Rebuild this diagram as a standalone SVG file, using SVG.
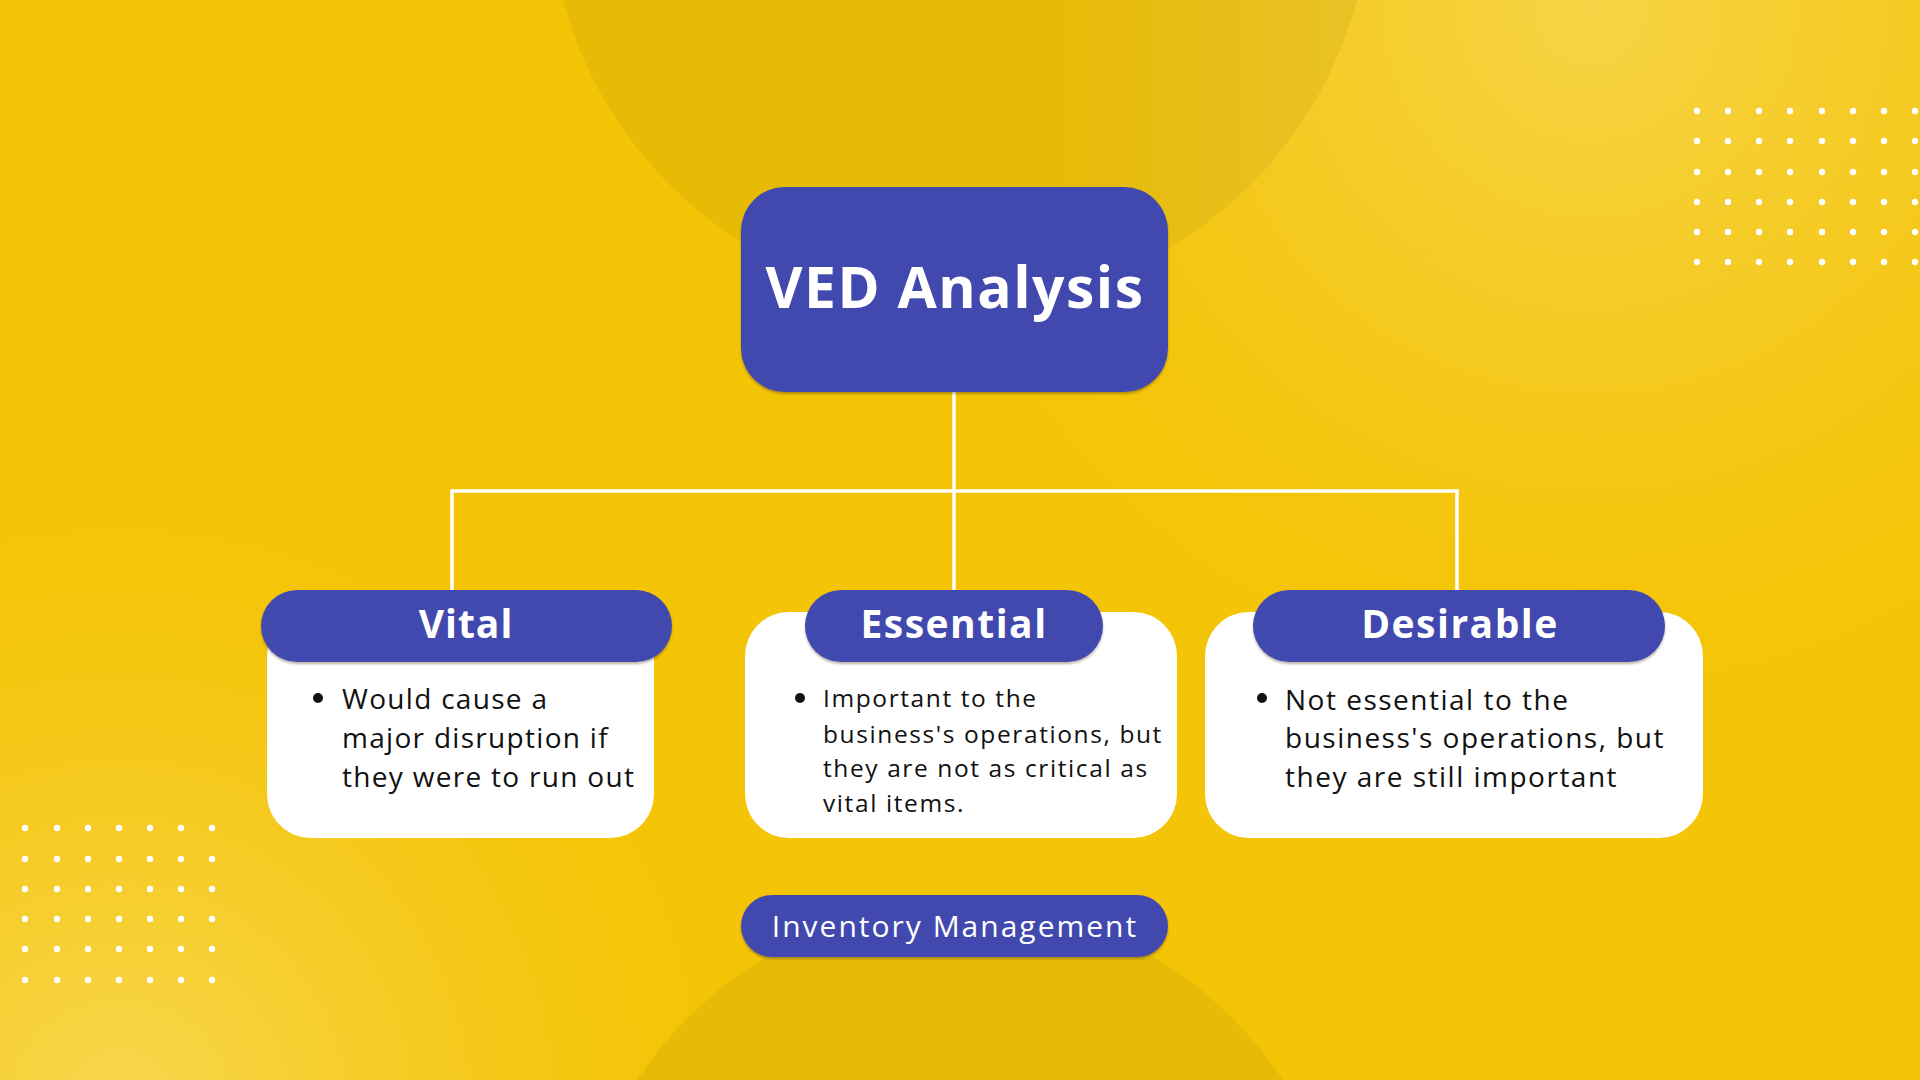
<svg xmlns="http://www.w3.org/2000/svg" width="1920" height="1080" viewBox="0 0 1920 1080">
  <defs>
    <radialGradient id="glowTR" cx="1590" cy="10" r="760" gradientUnits="userSpaceOnUse">
      <stop offset="0" stop-color="#F6D549" stop-opacity="0.95"/>
      <stop offset="0.45" stop-color="#F5CF38" stop-opacity="0.55"/>
      <stop offset="1" stop-color="#F4C406" stop-opacity="0"/>
    </radialGradient>
    <radialGradient id="glowBL" cx="120" cy="1110" r="650" gradientUnits="userSpaceOnUse">
      <stop offset="0" stop-color="#F7D850" stop-opacity="1"/>
      <stop offset="0.5" stop-color="#F6D03A" stop-opacity="0.5"/>
      <stop offset="1" stop-color="#F4C406" stop-opacity="0"/>
    </radialGradient>
    <linearGradient id="circTop" x1="560" y1="0" x2="1370" y2="0" gradientUnits="userSpaceOnUse">
      <stop offset="0" stop-color="#E7BA05"/>
      <stop offset="0.6" stop-color="#E6BA06"/>
      <stop offset="1" stop-color="#E9C228"/>
    </linearGradient>
    <filter id="sh" x="-5%" y="-10%" width="110%" height="130%">
      <feDropShadow dx="0" dy="2" stdDeviation="1.2" flood-color="#3a2f00" flood-opacity="0.35"/>
    </filter>
    <style>
      .pill { fill: #434AAE; filter: url(#sh); }
      .card { fill: #FFFFFF; }
      .title { font-family: "Open Sans", "Liberation Sans", sans-serif; font-weight: 700; fill: #FFFFFF; text-anchor: middle; }
      .body { font-family: "Open Sans", "Liberation Sans", sans-serif; fill: #111111; }
      .bullet { fill: #111111; }
      .dot { fill: #FFFFFF; }
      .conn { stroke: #FFFFFF; stroke-width: 3.5; fill: none; }
    </style>
  </defs>

  <!-- background -->
  <rect x="0" y="0" width="1920" height="1080" fill="#F4C406"/>
  <rect x="0" y="0" width="1920" height="1080" fill="url(#glowTR)"/>
  <rect x="0" y="0" width="1920" height="1080" fill="url(#glowBL)"/>
  <circle cx="960" cy="-106" r="411" fill="url(#circTop)"/>
  <circle cx="960" cy="1290" r="385" fill="#E6BA06"/>

  <!-- dot grids -->
  <g id="dots-top-right">
    <g class="dot">
      <circle cx="1697" cy="111" r="3.2"/><circle cx="1728" cy="111" r="3.2"/><circle cx="1759" cy="111" r="3.2"/><circle cx="1790" cy="111" r="3.2"/><circle cx="1822" cy="111" r="3.2"/><circle cx="1853" cy="111" r="3.2"/><circle cx="1884" cy="111" r="3.2"/><circle cx="1915" cy="111" r="3.2"/>
      <circle cx="1697" cy="141" r="3.2"/><circle cx="1728" cy="141" r="3.2"/><circle cx="1759" cy="141" r="3.2"/><circle cx="1790" cy="141" r="3.2"/><circle cx="1822" cy="141" r="3.2"/><circle cx="1853" cy="141" r="3.2"/><circle cx="1884" cy="141" r="3.2"/><circle cx="1915" cy="141" r="3.2"/>
      <circle cx="1697" cy="172" r="3.2"/><circle cx="1728" cy="172" r="3.2"/><circle cx="1759" cy="172" r="3.2"/><circle cx="1790" cy="172" r="3.2"/><circle cx="1822" cy="172" r="3.2"/><circle cx="1853" cy="172" r="3.2"/><circle cx="1884" cy="172" r="3.2"/><circle cx="1915" cy="172" r="3.2"/>
      <circle cx="1697" cy="202" r="3.2"/><circle cx="1728" cy="202" r="3.2"/><circle cx="1759" cy="202" r="3.2"/><circle cx="1790" cy="202" r="3.2"/><circle cx="1822" cy="202" r="3.2"/><circle cx="1853" cy="202" r="3.2"/><circle cx="1884" cy="202" r="3.2"/><circle cx="1915" cy="202" r="3.2"/>
      <circle cx="1697" cy="232" r="3.2"/><circle cx="1728" cy="232" r="3.2"/><circle cx="1759" cy="232" r="3.2"/><circle cx="1790" cy="232" r="3.2"/><circle cx="1822" cy="232" r="3.2"/><circle cx="1853" cy="232" r="3.2"/><circle cx="1884" cy="232" r="3.2"/><circle cx="1915" cy="232" r="3.2"/>
      <circle cx="1697" cy="262" r="3.2"/><circle cx="1728" cy="262" r="3.2"/><circle cx="1759" cy="262" r="3.2"/><circle cx="1790" cy="262" r="3.2"/><circle cx="1822" cy="262" r="3.2"/><circle cx="1853" cy="262" r="3.2"/><circle cx="1884" cy="262" r="3.2"/><circle cx="1915" cy="262" r="3.2"/>
    </g>
  </g>
  <g id="dots-bottom-left">
    <g class="dot">
      <circle cx="25" cy="828" r="3.2"/><circle cx="57" cy="828" r="3.2"/><circle cx="88" cy="828" r="3.2"/><circle cx="119" cy="828" r="3.2"/><circle cx="150" cy="828" r="3.2"/><circle cx="181" cy="828" r="3.2"/><circle cx="212" cy="828" r="3.2"/>
      <circle cx="25" cy="859" r="3.2"/><circle cx="57" cy="859" r="3.2"/><circle cx="88" cy="859" r="3.2"/><circle cx="119" cy="859" r="3.2"/><circle cx="150" cy="859" r="3.2"/><circle cx="181" cy="859" r="3.2"/><circle cx="212" cy="859" r="3.2"/>
      <circle cx="25" cy="889" r="3.2"/><circle cx="57" cy="889" r="3.2"/><circle cx="88" cy="889" r="3.2"/><circle cx="119" cy="889" r="3.2"/><circle cx="150" cy="889" r="3.2"/><circle cx="181" cy="889" r="3.2"/><circle cx="212" cy="889" r="3.2"/>
      <circle cx="25" cy="919" r="3.2"/><circle cx="57" cy="919" r="3.2"/><circle cx="88" cy="919" r="3.2"/><circle cx="119" cy="919" r="3.2"/><circle cx="150" cy="919" r="3.2"/><circle cx="181" cy="919" r="3.2"/><circle cx="212" cy="919" r="3.2"/>
      <circle cx="25" cy="949" r="3.2"/><circle cx="57" cy="949" r="3.2"/><circle cx="88" cy="949" r="3.2"/><circle cx="119" cy="949" r="3.2"/><circle cx="150" cy="949" r="3.2"/><circle cx="181" cy="949" r="3.2"/><circle cx="212" cy="949" r="3.2"/>
      <circle cx="25" cy="980" r="3.2"/><circle cx="57" cy="980" r="3.2"/><circle cx="88" cy="980" r="3.2"/><circle cx="119" cy="980" r="3.2"/><circle cx="150" cy="980" r="3.2"/><circle cx="181" cy="980" r="3.2"/><circle cx="212" cy="980" r="3.2"/>
    </g>
  </g>

  <!-- connectors -->
  <g id="connectors">
    <line class="conn" x1="954" y1="392" x2="954" y2="591"/>
    <line class="conn" x1="450.3" y1="491" x2="1458.7" y2="491"/>
    <line class="conn" x1="452" y1="491" x2="452" y2="591"/>
    <line class="conn" x1="1457" y1="491" x2="1457" y2="591"/>
  </g>

  <!-- root node -->
  <g id="node-ved">
    <rect class="pill" x="741" y="187" width="427" height="205" rx="44" ry="44"/>
    <text class="title" x="955" y="308" font-size="57" letter-spacing="1.5">VED Analysis</text>
  </g>

  <!-- Vital -->
  <g id="node-vital">
    <rect class="card" x="267" y="612" width="387" height="226" rx="44" ry="44"/>
    <rect class="pill" x="261" y="590" width="411" height="72" rx="36" ry="36"/>
    <text class="title" x="466" y="638" font-size="39" letter-spacing="1">Vital</text>
    <circle class="bullet" cx="318" cy="698" r="5"/>
    <text class="body" font-size="28" letter-spacing="1.3">
      <tspan x="342" y="709">Would cause a</tspan>
      <tspan x="342" y="748">major disruption if</tspan>
      <tspan x="342" y="787">they were to run out</tspan>
    </text>
  </g>

  <!-- Essential -->
  <g id="node-essential">
    <rect class="card" x="745" y="612" width="432" height="226" rx="44" ry="44"/>
    <rect class="pill" x="805" y="590" width="298" height="72" rx="36" ry="36"/>
    <text class="title" x="954" y="638" font-size="39" letter-spacing="1.5">Essential</text>
    <circle class="bullet" cx="800" cy="698" r="5"/>
    <text class="body" font-size="24.5" letter-spacing="1.6">
      <tspan x="823" y="707">Important to the</tspan>
      <tspan x="823" y="743">business's operations, but</tspan>
      <tspan x="823" y="777">they are not as critical as</tspan>
      <tspan x="823" y="812">vital items.</tspan>
    </text>
  </g>

  <!-- Desirable -->
  <g id="node-desirable">
    <rect class="card" x="1205" y="612" width="498" height="226" rx="44" ry="44"/>
    <rect class="pill" x="1253" y="590" width="412" height="72" rx="36" ry="36"/>
    <text class="title" x="1460" y="638" font-size="39" letter-spacing="1.5">Desirable</text>
    <circle class="bullet" cx="1262" cy="698" r="5"/>
    <text class="body" font-size="28" letter-spacing="1.5">
      <tspan x="1285" y="710">Not essential to the</tspan>
      <tspan x="1285" y="748">business's operations, but</tspan>
      <tspan x="1285" y="787">they are still important</tspan>
    </text>
  </g>

  <!-- footer label -->
  <g id="node-inventory">
    <rect class="pill" x="741" y="895" width="427" height="62" rx="31" ry="31"/>
    <text x="955" y="937" font-family="'Open Sans', 'Liberation Sans', sans-serif" font-size="30" letter-spacing="2" fill="#FFFFFF" text-anchor="middle">Inventory Management</text>
  </g>
</svg>
